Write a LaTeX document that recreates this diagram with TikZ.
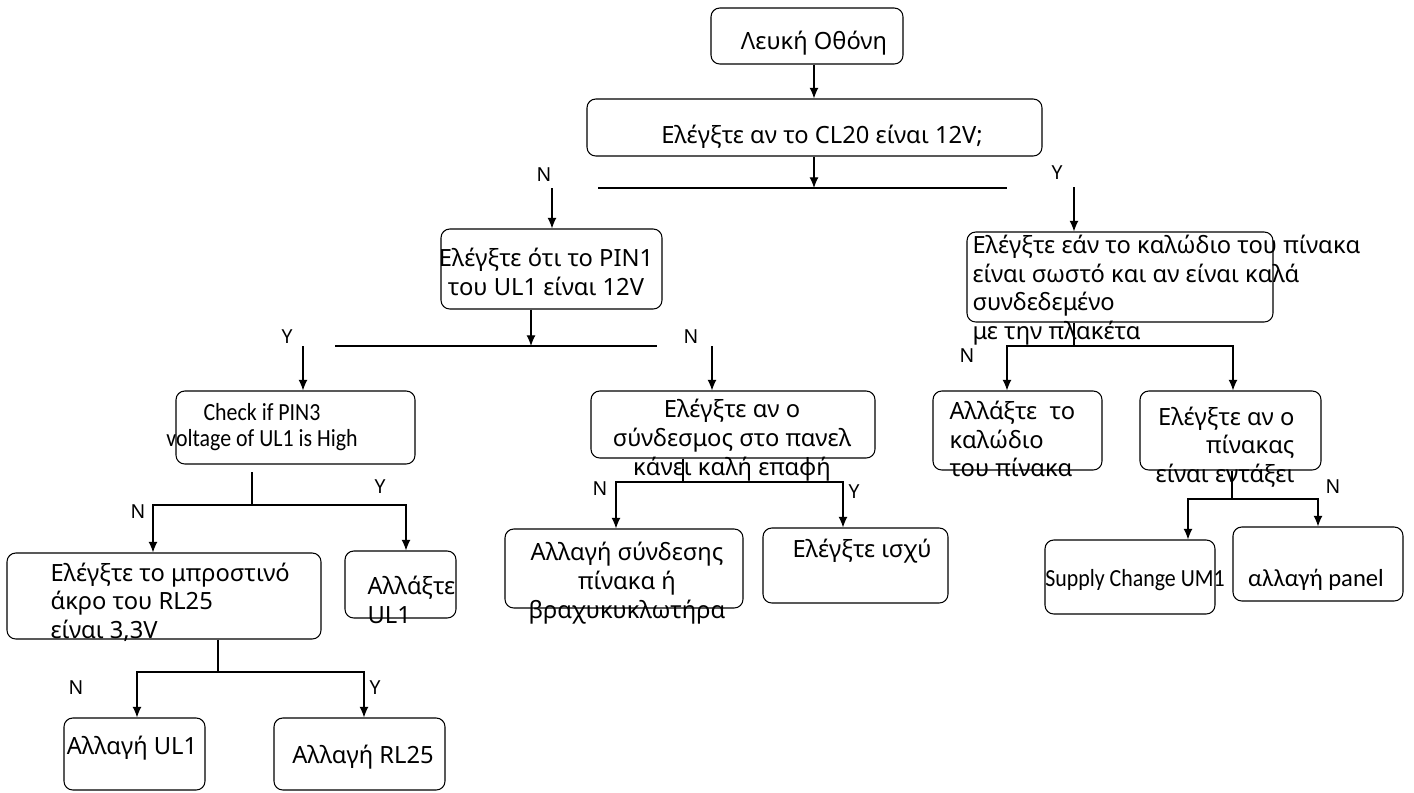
\documentclass[tikz,border=0pt]{standalone}
\usepackage{fontspec}
\setmainfont{Noto Sans}
\newfontfamily\narrowfont{Carlito}
\usetikzlibrary{arrows.meta,fit}
\newcommand{\narrowtext}[1]{\scalebox{0.89}[1]{#1}}

\begin{document}
\begin{tikzpicture}[x=0.02cm, y=-0.02cm, line width=0.6pt, >={Latex[length=6pt,width=5pt]}]
		\useasboundingbox (0,0) rectangle (1414,792);
		\tikzstyle{box} = [draw, rounded corners=5pt, inner sep=0pt]
		\tikzstyle{txt} = [inner sep=0pt, font=\fontsize{13.5}{16.3}\selectfont]
		\tikzstyle{cond} = [inner sep=0pt, font=\narrowfont\fontsize{14}{14.5}\selectfont]
		\tikzstyle{yn} = [inner sep=0pt, font=\fontsize{11}{13}\selectfont]

		\node[box, fit={(711,8) (903,64)}] (white) {};
		\node[box, fit={(587,99) (1042,156)}] (cl20) {};
		\node[box, fit={(441,229) (662,309)}] (pin1) {};
		\node[box, fit={(967,232) (1273,322)}] (cable) {};
		\node[box, fit={(176,391) (415,464)}] (check) {};
		\node[box, fit={(591,391) (875,458)}] (conn) {};
		\node[box, fit={(933,391) (1102,470)}] (replCable) {};
		\node[box, fit={(1140,391) (1321,470)}] (panel) {};
		\node[box, fit={(7,553) (321,639)}] (front) {};
		\node[box, fit={(345,551) (456,618)}] (replUL1) {};
		\node[box, fit={(505,529) (743,608)}] (link) {};
		\node[box, fit={(763,528) (948,603)}] (power) {};
		\node[box, fit={(1045,540) (1215,614)}] (supply) {};
		\node[box, fit={(1233,527) (1403,601)}] (panelCh) {};
		\node[box, fit={(64,718) (205,790)}] (ul1) {};
		\node[box, fit={(274,718) (445,790)}] (rl25) {};

		\node[txt] (whiteT) at (814,43) {Λευκή Οθόνη};
		\node[txt] (cl20T) at (822,137) {Ελέγξτε αν το CL20 είναι 12V;};
		\node[txt, align=center] (pin1T) at (546,272) {Ελέγξτε ότι το PIN1\\του UL1 είναι 12V};
		\node[txt, align=left, anchor=west] (cableT) at (972,290) {Ελέγξτε εάν το καλώδιο του πίνακα\\είναι σωστό και αν είναι καλά\\συνδεδεμένο\\με την πλακέτα};
		\node[cond, align=center] (checkT) at (262,427) {\narrowtext{Check if PIN3}\\\narrowtext{voltage of UL1 is High}};
		\node[txt, align=center] (connT) at (732,440) {Ελέγξτε αν ο\\σύνδεσμος στο πανελ\\κάνει καλή επαφή};
		\node[txt, align=left, anchor=west] (replCableT) at (949,439) {Αλλάξτε\ \ το\\καλώδιο\\του πίνακα};
		\node[txt, align=right, anchor=east] (panelT) at (1295,447) {Ελέγξτε αν ο\\πίνακας\\είναι εντάξει};
		\node[txt, align=left, anchor=west] (frontT) at (50,602) {Ελέγξτε το μπροστινό\\άκρο του RL25\\είναι 3,3V};
		\node[txt, align=left, anchor=west] (replUL1T) at (367,600) {Αλλάξτε\\UL1};
		\node[txt, align=center] (linkT) at (627,583) {Αλλαγή σύνδεσης\\πίνακα ή\\βραχυκυκλωτήρα};
		\node[txt] (powerT) at (862,551) {Ελέγξτε ισχύ};
		\node[cond] (supplyT) at (1135,580) {\narrowtext{Supply Change UM1}};
		\node[cond] (panelChT) at (1316,580) {αλλαγή panel};
		\node[txt] (ul1T) at (132,748) {Αλλαγή UL1};
		\node[txt] (rl25T) at (363,757) {Αλλαγή RL25};

		\node[yn] (n1) at (544,175) {N};
		\node[yn] (y1) at (1057,173) {Y};
		\node[yn] (y2) at (287,337) {Y};
		\node[yn] (n2) at (691,337) {N};
		\node[yn] (y3) at (380,487) {Y};
		\node[yn] (n3) at (138,512) {N};
		\node[yn] (n4) at (600,489) {N};
		\node[yn] (y4) at (854,492) {Y};
		\node[yn] (n5) at (76,688) {N};
		\node[yn] (y5) at (375,688) {Y};
		\node[yn] (n6) at (967,356) {N};
		\node[yn] (n7) at (1333,487) {N};

		\coordinate (j1) at (814,188);
		\coordinate (bar1L) at (598,188);
		\coordinate (bar1R) at (1007,188);
		\coordinate (a1N) at (552,188);
		\coordinate (a1Y) at (1074,187);
		\draw [->] (white.south -| j1) -- (cl20.north -| j1);
		\draw [->] (cl20.south -| j1) -- (j1);
		\draw (bar1L) -- (bar1R);
		\draw [->] (a1N) -- (pin1.north -| a1N);
		\draw [->] (a1Y) -- (cable.north -| a1Y);

		\coordinate (j2) at (531,346);
		\coordinate (bar2L) at (335,346);
		\coordinate (bar2R) at (657,346);
		\coordinate (a2Y) at (303,346);
		\coordinate (a2N) at (712,346);
		\draw [->] (pin1.south -| j2) -- (j2);
		\draw (bar2L) -- (bar2R);
		\draw [->] (a2Y) -- (check.north -| a2Y);
		\draw [->] (a2N) -- (conn.north -| a2N);

		\coordinate (j3top) at (252,472);
		\coordinate (j3) at (252,505);
		\coordinate (j3L) at (153,505);
		\coordinate (j3R) at (406,505);
		\draw (j3top) -- (j3);
		\draw [->] (j3) -| (front.north -| j3L);
		\draw [->] (j3) -| (replUL1.north -| j3R);

		\coordinate (j4) at (683,482);
		\coordinate (j4L) at (616,482);
		\coordinate (j4R) at (843,482);
		\draw (conn.south -| j4) -- (j4);
		\draw [->] (j4) -| (link.north -| j4L);
		\draw [->] (j4) -| (power.north -| j4R);

		\coordinate (j5) at (218,672);
		\coordinate (j5L) at (137,672);
		\coordinate (j5R) at (364,672);
		\draw (front.south -| j5) -- (j5);
		\draw [->] (j5) -| (ul1.north -| j5L);
		\draw [->] (j5) -| (rl25.north -| j5R);

		\coordinate (j6) at (1074,346);
		\coordinate (j6L) at (1007,346);
		\coordinate (j6R) at (1233,346);
		\draw (cable.south -| j6) -- (j6);
		\draw [->] (j6) -| (replCable.north -| j6L);
		\draw [->] (j6) -| (panel.north -| j6R);

		\coordinate (j7) at (1232,499);
		\coordinate (j7L) at (1188,499);
		\coordinate (j7R) at (1318,499);
		\draw (panel.south -| j7) -- (j7);
		\draw [->] (j7) -| (supply.north -| j7L);
		\draw [->] (j7) -| (panelCh.north -| j7R);
		\end{tikzpicture}
\end{document}
